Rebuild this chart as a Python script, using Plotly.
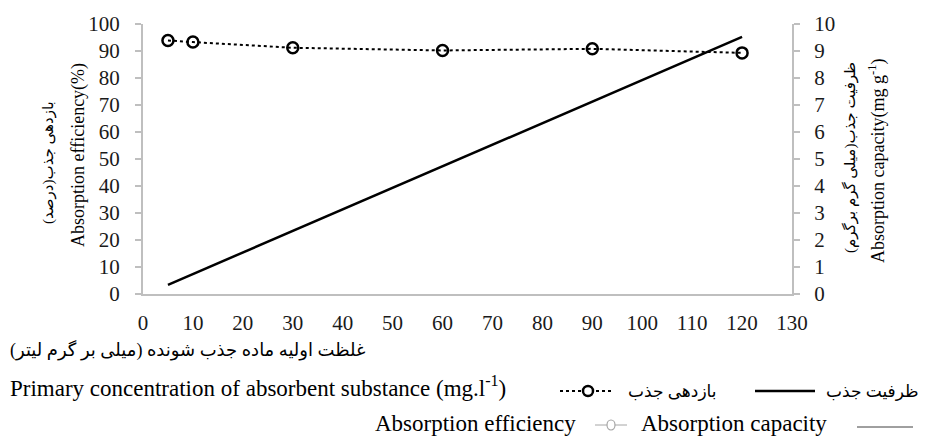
import plotly.graph_objects as go

# ---- data ----
concentration = [5, 10, 30, 60, 90, 120]
efficiency = [93.9, 93.3, 91.2, 90.2, 90.8, 89.3]        # % (left axis)
capacity = [0.34, 0.74, 2.33, 4.73, 7.12, 9.52]           # mg/g (right axis)
x_ticks = list(range(0, 131, 10))
y1_ticks = list(range(0, 101, 10))
y2_ticks = list(range(0, 11, 1))

W, H = 925, 436
L, R, T, B = 143, 792, 24, 294  # plot area in pixels


def px(x):
    return (x - L) / (R - L)


def py(y):
    return (B - y) / (B - T)


SERIF = "Liberation Serif"
FA = "Liberation Serif, DejaVu Sans"
AXC = "#bfbfbf"
TXT = "#1a1a1a"

fig = go.Figure()
fig.add_trace(go.Scatter(
    x=concentration, y=efficiency, mode="lines+markers", name="بازدهی جذب",
    line=dict(color="black", width=2, dash="dot"),
    marker=dict(symbol="circle-open", size=11, color="black", line=dict(width=2.5)),
    yaxis="y", showlegend=False))
fig.add_trace(go.Scatter(
    x=concentration, y=capacity, mode="lines", name="ظرفیت جذب",
    line=dict(color="black", width=2.5),
    yaxis="y2", showlegend=False))

axis_common = dict(showgrid=False, zeroline=False, showline=True, linecolor=AXC,
                   linewidth=2, automargin=False,
                   tickfont=dict(family=SERIF, size=21, color=TXT))
fig.update_layout(
    width=W, height=H,
    margin=dict(l=L, r=W - R, t=T, b=H - B),
    plot_bgcolor="white", paper_bgcolor="white",
    showlegend=False,
    xaxis=dict(range=[0, 130], tickvals=x_ticks, ticks="", ticklabelstandoff=9,
               **axis_common),
    yaxis=dict(range=[0, 100], tickvals=y1_ticks, ticks="outside", ticklen=6,
               tickcolor=AXC, tickwidth=2, ticklabelstandoff=11, **axis_common),
    yaxis2=dict(range=[0, 10], tickvals=y2_ticks, ticks="outside", ticklen=6,
                tickcolor=AXC, tickwidth=2, overlaying="y", side="right",
                ticklabelstandoff=10, **axis_common),
)

ann = []
# left axis titles
ann.append(dict(text="Absorption efficiency(%)", x=px(78), y=py(155), textangle=-90,
                font=dict(family=SERIF, size=18, color="black")))
ann.append(dict(text="بازدهی جذب(درصد)", x=px(48), y=py(163), textangle=-90,
                font=dict(family=FA, size=15, color="black")))
# right axis titles
ann.append(dict(text="Absorption capacity(mg g<sup>-1</sup>)", x=px(877), y=py(161),
                textangle=-90, font=dict(family=SERIF, size=18, color="black")))
ann.append(dict(text="ظرفیت جذب(میلی گرم برگرم)", x=px(850), y=py(158), textangle=-90,
                font=dict(family=FA, size=15, color="black")))
# x titles
ann.append(dict(text="غلظت اولیه ماده جذب شونده (میلی بر گرم لیتر)", x=px(8), y=py(350),
                xanchor="left", font=dict(family=FA, size=18, color="black")))
ann.append(dict(text="Primary concentration of absorbent substance (mg.l<sup>-1</sup>)",
                x=px(8), y=py(386), xanchor="left",
                font=dict(family=SERIF, size=23, color="black")))
# legend row 1 (Persian)
ann.append(dict(text="بازدهی جذب", x=px(626), y=py(391), xanchor="left",
                font=dict(family=FA, size=17, color="black")))
ann.append(dict(text="ظرفیت جذب", x=px(921), y=py(391), xanchor="right",
                font=dict(family=FA, size=17, color="black")))
# legend row 2 (English)
ann.append(dict(text="Absorption efficiency", x=px(578), y=py(423), xanchor="right",
                font=dict(family=SERIF, size=23, color="black")))
ann.append(dict(text="Absorption capacity", x=px(639), y=py(423), xanchor="left",
                font=dict(family=SERIF, size=23, color="black")))
for a in ann:
    a.setdefault("xanchor", "center")
    a.setdefault("yanchor", "middle")
    a.update(xref="paper", yref="paper", showarrow=False)
fig.update_layout(annotations=ann)

shapes = []
# row 1 glyphs
shapes.append(dict(type="line", x0=px(560), x1=px(613), y0=py(391), y1=py(391),
                   line=dict(color="black", width=2, dash="dot")))
shapes.append(dict(type="circle", x0=px(583), x1=px(593), y0=py(386), y1=py(396),
                   line=dict(color="black", width=2.5), fillcolor="white"))
shapes.append(dict(type="line", x0=px(755), x1=px(815), y0=py(391), y1=py(391),
                   line=dict(color="black", width=2.5)))
# row 2 glyphs
shapes.append(dict(type="line", x0=px(595), x1=px(627), y0=py(425), y1=py(425),
                   line=dict(color="#a6a6a6", width=1)))
shapes.append(dict(type="circle", x0=px(607), x1=px(615), y0=py(420), y1=py(430),
                   line=dict(color="#a6a6a6", width=1.2), fillcolor="white"))
shapes.append(dict(type="line", x0=px(857), x1=px(913), y0=py(427), y1=py(427),
                   line=dict(color="#404040", width=1)))
for s in shapes:
    s.update(xref="paper", yref="paper")
fig.update_layout(shapes=shapes)

fig.write_html("out.html", config={"displayModeBar": False},
               post_script="document.body.style.margin='0';")
